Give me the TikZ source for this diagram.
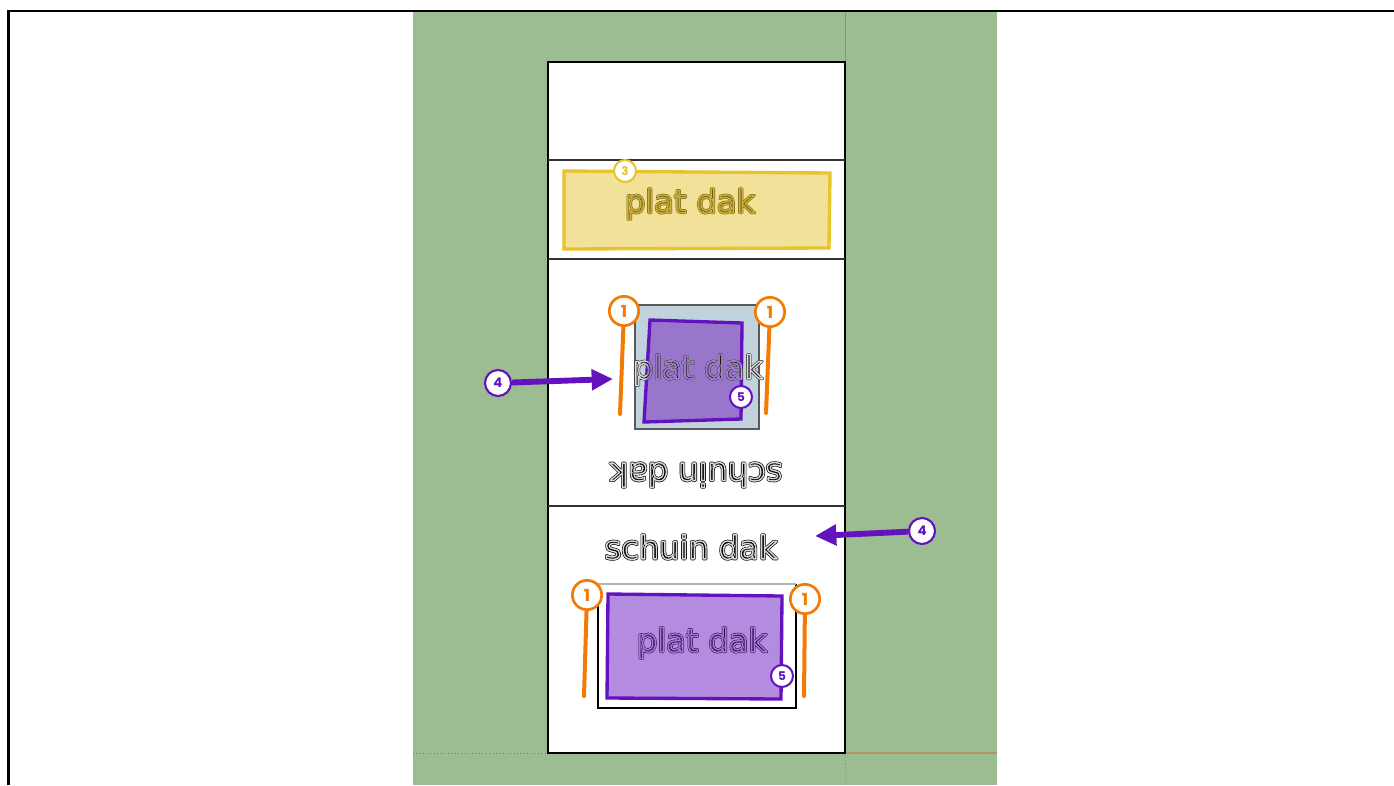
\documentclass[tikz,border=0pt]{standalone}
\usepackage{fontspec}
\setmainfont{DejaVu Sans}
\newfontfamily\numfont{Poppins}[UprightFont=* Bold]
\usetikzlibrary{arrows.meta}
\definecolor{grn}{HTML}{9CBC92}
\definecolor{org}{HTML}{F47A06}
\definecolor{pur}{HTML}{6312BE}
\definecolor{yel}{HTML}{E8C32B}
\definecolor{roofblue}{HTML}{C2D2DD}
\definecolor{purmid}{HTML}{9876CC}
\definecolor{purlite}{HTML}{B38CDF}
\definecolor{yellite}{HTML}{F2E198}
\newcommand{\outl}[2]{\special{pdf:code #1 w 1 Tr 1 j}#2\special{pdf:code 0 Tr}}
% dark outer stroke of the glyphs, then a lighter core over it
\newcommand{\dbl}[8]{%
  \node[word,#2,text=#3] (#1) at (#4) {\outl{#5}{#8}};
  \node[word,#2,text=#6] at (#4) {\pgfsetstrokeopacity{#7}\outl{1.05}{#8}};
}
\tikzset{
  x=0.75pt,y=-0.75pt,
  panelrule/.style={draw=black!80,line width=0.8pt},
  numa/.style={circle,fill=white,draw=org,line width=2pt,minimum size=22pt,inner sep=0pt,text=org,font=\numfont\fontsize{12.5}{12.5}\selectfont},
  numb/.style={circle,fill=white,draw=pur,line width=1.6pt,minimum size=19.5pt,inner sep=0pt,text=pur,font=\numfont\fontsize{10}{10}\selectfont},
  numc/.style={circle,fill=white,draw=pur,line width=1.5pt,minimum size=16.5pt,inner sep=0pt,text=pur,font=\numfont\fontsize{9}{9}\selectfont},
  numd/.style={circle,fill=white,draw=yel,line width=1.5pt,minimum size=16.5pt,inner sep=0pt,text=yel,font=\numfont\fontsize{9}{9}\selectfont},
  oline/.style={draw=org,line width=3pt,line cap=round},
  parrow/.style={draw=pur,line width=4.4pt,-{Triangle[length=16pt,width=15pt]}},
  purquad/.style={draw=pur,line width=2.5pt,line join=miter},
  word/.style={font=\fontsize{24}{24}\selectfont,inner sep=0pt},
}
\begin{document}
\begin{tikzpicture}
\useasboundingbox (0,0) rectangle (1394,785);
\fill[white] (0,0) rectangle (1394,785);
% ground
\fill[grn] (413,12) rectangle (997,785);
\draw[draw=green!50!black,line width=0.6pt,opacity=.3] (845,12) -- (845,62);
\draw[green!45!black,line width=0.6pt,opacity=.3,dotted] (845,753) -- (845,785);
\draw[black!60!grn,line width=0.6pt,opacity=.5,dotted] (413,753) -- (548,753);
\draw[brown!60!grn,line width=0.8pt] (845,753) -- (997,753);
% frame
\draw[black,line width=2.1pt] (8.3,785) -- (8.3,11) -- (1394,11);
% panel
\node[draw=black,fill=white,line width=0.95pt,inner sep=0pt,outer sep=0pt,minimum width=222.75pt,minimum height=518.25pt,anchor=north west] (panel) at (548,62) {};
\draw[panelrule] (548,160) -- (845,160);
\draw[panelrule] (548,259) -- (845,259);
\draw[panelrule] (548,506) -- (845,506);
% flat roof
\draw[draw=yel,fill=yellite,line width=2.5pt] (564,171) -- (830,173) -- (829,248) -- (564,249) -- cycle;
\dbl{t1}{}{black!52!yel}{690,204}{1.8}{black!8!yel!85!yellite}{.9}{plat dak}
\node[numd] (n3) at (625,171) {3};
% pitched roof upper
\draw[draw=black!65,fill=roofblue,line width=1pt] (635,305) rectangle (759,429);
\draw[purquad,fill=purmid] (650,320) -- (742,323) -- (741,419) -- (644,422) -- cycle;
\dbl{t2}{}{black!90}{698,370}{1.8}{white}{.85}{plat dak}
\begin{scope}
\clip (650,320) -- (742,323) -- (741,419) -- (644,422) -- cycle;
\node[word,text=purmid] (t2core) at (698,370) {\outl{1.05}{plat dak}};
\end{scope}
\node[numc] (n5a) at (741,397) {5};
\dbl{t3}{rotate=180}{black}{696,475}{2}{white}{.85}{schuin dak}
\node[numa] (n1a) at (624,311) {1};
\node[numa] (n1b) at (770,312) {1};
\coordinate (e1a) at (620,414);
\coordinate (e1b) at (766,413);
\draw[oline] (n1a) -- (e1a);
\draw[oline] (n1b) -- (e1b);
\node[numb] (n4a) at (498,383) {4};
\coordinate (e4a) at (613,379);
\draw[parrow] (n4a) -- (e4a);
% pitched roof lower
\dbl{t4}{}{black}{691,547}{2}{white}{.85}{schuin dak}
\draw[black,line width=0.9pt] (598,584) -- (598,708) -- (796,708) -- (796,584);
\draw[black!30,line width=0.9pt] (598,584) -- (796,584);
\draw[purquad,fill=purlite] (608,594) -- (782,596) -- (781,699) -- (607,698) -- cycle;
\dbl{t5}{}{pur!35!black}{702,643}{1.8}{purlite!85!pur}{1}{plat dak}
\node[numc] (n5b) at (782,676) {5};
\node[numa] (n1c) at (587,595) {1};
\node[numa] (n1d) at (805,599) {1};
\coordinate (e1c) at (584,696);
\coordinate (e1d) at (804,696);
\draw[oline] (n1c) -- (e1c);
\draw[oline] (n1d) -- (e1d);
\node[numb] (n4b) at (922,531) {4};
\coordinate (e4b) at (815,536);
\draw[parrow] (n4b) -- (e4b);
\end{tikzpicture}
\end{document}
